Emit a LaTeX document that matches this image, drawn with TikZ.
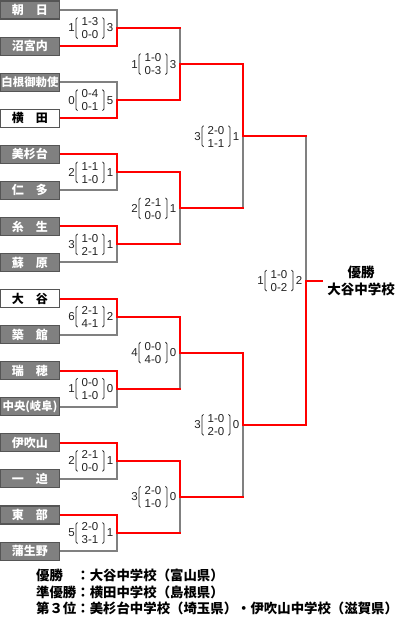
\documentclass[tikz,border=0pt]{standalone}
\usepackage{fontspec}
\setmainfont{Liberation Sans}
\newfontfamily\jp{Noto Sans CJK JP}
\usetikzlibrary{calc}
\definecolor{boxgray}{HTML}{808080}
\definecolor{edgegray}{HTML}{555555}
\definecolor{linegray}{HTML}{808080}
\definecolor{winred}{HTML}{FF0000}
\definecolor{txtdark}{HTML}{222222}
\tikzset{
  team/.style={draw=edgegray, line width=1.1pt, fill=boxgray, text=white,
    minimum width=59pt, minimum height=18pt, inner sep=0pt,
    font=\jp\bfseries\fontsize{12}{12}\selectfont},
  teamw/.style={team, fill=white, text=black},
  smallname/.style={font=\jp\bfseries\fontsize{11.4}{12}\selectfont},
  lose/.style={draw=linegray, line width=2pt},
  win/.style={draw=winred, line width=2pt},
  winout/.style={win, line cap=rect},
  scorenum/.style={inner sep=0pt, text=txtdark, font=\fontsize{11.5}{13}\selectfont},
  scorestack/.style={inner sep=0pt, align=center, text=txtdark, font=\fontsize{11.5}{13}\selectfont},
  bracket/.style={draw=txtdark, line width=0.8pt},
  champ/.style={align=center, inner sep=0pt, font=\jp\bfseries\fontsize{13.5}{17}\selectfont},
  legend/.style={anchor=west, inner sep=0pt, font=\jp\bfseries\fontsize{13.4}{16}\selectfont},
}
\newcommand{\scorelab}[6]{%
  \node[scorenum] (#1R) at ($(#2)+(-7,0)$) {#6};
  \node[scorestack] (#1S) at ($(#2)+(-27,0.3)$) {#4\\#5};
  \node[scorenum] (#1L) at ($(#2)+(-45.5,0)$) {#3};
  \draw[bracket] ($(#2)+(-39.5,-10.5)$) -- ++(-1.5,1.7) -- ++(0,17.6) -- ++(1.5,1.7);
  \draw[bracket] ($(#2)+(-14.5,-10.5)$) -- ++(1.5,1.7) -- ++(0,17.6) -- ++(-1.5,1.7);
}
\begin{document}
\begin{tikzpicture}[x=1pt,y=-1pt]
\useasboundingbox (0,0) rectangle (414,622);

% teams
\node[team]  (t0)  at (30,10)     {朝　日};
\node[team]  (t1)  at (30,46.07)  {沼宮内};
\node[team,smallname] (t2)  at (30,82.14)  {白根御勅使};
\node[teamw] (t3)  at (30,118.21) {横　田};
\node[team]  (t4)  at (30,154.28) {美杉台};
\node[team]  (t5)  at (30,190.35) {仁　多};
\node[team]  (t6)  at (30,226.42) {糸　生};
\node[team]  (t7)  at (30,262.49) {蘇　原};
\node[teamw] (t8)  at (30,298.56) {大　谷};
\node[team]  (t9)  at (30,334.63) {築　館};
\node[team]  (t10) at (30,370.70) {瑞　穂};
\node[team,smallname] (t11) at (30,406.77) {中央(岐阜)};
\node[team]  (t12) at (30,442.84) {伊吹山};
\node[team]  (t13) at (30,478.91) {一　迫};
\node[team]  (t14) at (30,514.98) {東　部};
\node[team]  (t15) at (30,551.05) {蒲生野};

% junctions
\coordinate (a0) at (117,28.035);
\coordinate (a1) at (117,100.175);
\coordinate (a2) at (117,172.315);
\coordinate (a3) at (117,244.455);
\coordinate (a4) at (117,316.595);
\coordinate (a5) at (117,388.735);
\coordinate (a6) at (117,460.875);
\coordinate (a7) at (117,533.015);
\coordinate (b0) at (180,64.105);
\coordinate (b1) at (180,208.385);
\coordinate (b2) at (180,352.665);
\coordinate (b3) at (180,496.945);
\coordinate (c0) at (243,136.245);
\coordinate (c1) at (243,424.805);
\coordinate (f)  at (306,280.525);
\coordinate (ch) at (322,280.525);

% losing paths
\draw[lose] (t0.east) -| (a0);
\draw[lose] (t2.east) -| (a1);
\draw[lose] (t5.east) -| (a2);
\draw[lose] (t7.east) -| (a3);
\draw[lose] (t9.east) -| (a4);
\draw[lose] (t11.east) -| (a5);
\draw[lose] (t13.east) -| (a6);
\draw[lose] (t15.east) -| (a7);
\draw[lose] (a0 -| b0) -- (b0);
\draw[lose] (a3 -| b1) -- (b1);
\draw[lose] (a5 -| b2) -- (b2);
\draw[lose] (a7 -| b3) -- (b3);
\draw[lose] (b1 -| c0) -- (c0);
\draw[lose] (b3 -| c1) -- (c1);
\draw[lose] (c0 -| f) -- (f);

% winning paths
\draw[win] (t1.east) -| (a0);
\draw[win] (t3.east) -| (a1);
\draw[win] (t4.east) -| (a2);
\draw[win] (t6.east) -| (a3);
\draw[win] (t8.east) -| (a4);
\draw[win] (t10.east) -| (a5);
\draw[win] (t12.east) -| (a6);
\draw[win] (t14.east) -| (a7);
\draw[win] (a1 -| b0) -- (b0);
\draw[win] (a2 -| b1) -- (b1);
\draw[win] (a4 -| b2) -- (b2);
\draw[win] (a6 -| b3) -- (b3);
\draw[win] (b0 -| c0) -- (c0);
\draw[win] (b2 -| c1) -- (c1);
\draw[win] (c1 -| f) -- (f);
\draw[winout] (a0) -- (a0 -| b0);
\draw[winout] (a1) -- (a1 -| b0);
\draw[winout] (a2) -- (a2 -| b1);
\draw[winout] (a3) -- (a3 -| b1);
\draw[winout] (a4) -- (a4 -| b2);
\draw[winout] (a5) -- (a5 -| b2);
\draw[winout] (a6) -- (a6 -| b3);
\draw[winout] (a7) -- (a7 -| b3);
\draw[winout] (b0) -- (b0 -| c0);
\draw[winout] (b1) -- (b1 -| c0);
\draw[winout] (b2) -- (b2 -| c1);
\draw[winout] (b3) -- (b3 -| c1);
\draw[winout] (c0) -- (c0 -| f);
\draw[winout] (c1) -- (c1 -| f);
\draw[winout] (f) -- (ch);

% scores
\scorelab{sa0}{a0}{1}{1-3}{0-0}{3}
\scorelab{sa1}{a1}{0}{0-4}{0-1}{5}
\scorelab{sa2}{a2}{2}{1-1}{1-0}{1}
\scorelab{sa3}{a3}{3}{1-0}{2-1}{1}
\scorelab{sa4}{a4}{6}{2-1}{4-1}{2}
\scorelab{sa5}{a5}{1}{0-0}{1-0}{0}
\scorelab{sa6}{a6}{2}{2-1}{0-0}{1}
\scorelab{sa7}{a7}{5}{2-0}{3-1}{1}
\scorelab{sb0}{b0}{1}{1-0}{0-3}{3}
\scorelab{sb1}{b1}{2}{2-1}{0-0}{1}
\scorelab{sb2}{b2}{4}{0-0}{4-0}{0}
\scorelab{sb3}{b3}{3}{2-0}{1-0}{0}
\scorelab{sc0}{c0}{3}{2-0}{1-1}{1}
\scorelab{sc1}{c1}{3}{1-0}{2-0}{0}
\scorelab{sf}{f}{1}{1-0}{0-2}{2}

% champion
\node[champ] (champ) at (361,280.5) {優勝\\大谷中学校};

% legend
\node[legend] (leg1) at (36,575) {優勝　：大谷中学校（富山県）};
\node[legend] (leg2) at (36,592) {準優勝：横田中学校（島根県）};
\node[legend] (leg3) at (36,608.5) {第３位：美杉台中学校（埼玉県）・伊吹山中学校（滋賀県）};
\end{tikzpicture}
\end{document}
